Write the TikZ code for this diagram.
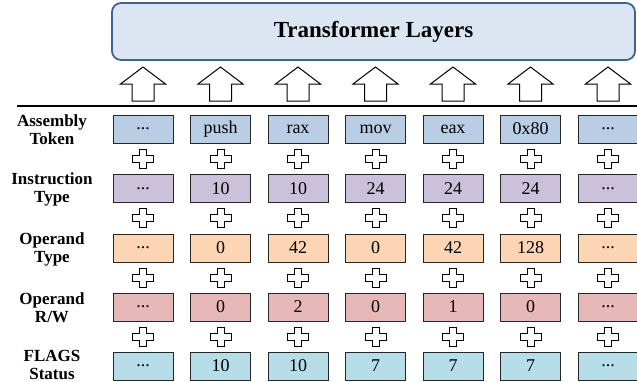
\documentclass[tikz,border=0pt]{standalone}
\usepackage{fontspec}
\setmainfont{Liberation Serif}
\usetikzlibrary{calc}

\definecolor{tokblue}{HTML}{B9CDE5}
\definecolor{insviolet}{HTML}{CCC1DA}
\definecolor{oppeach}{HTML}{FCD5B5}
\definecolor{rwpink}{HTML}{E6B9B8}
\definecolor{flagcyan}{HTML}{B7DDE8}
\definecolor{layerfill}{HTML}{DCE6F2}
\definecolor{layerdraw}{HTML}{41638F}
\newcommand{\etcdots}{...}

\begin{document}
\begin{tikzpicture}[x=0.5pt, y=-0.5pt]
        \tikzstyle{cell} = [draw=black!85, line width=0.5pt, minimum width=30pt, minimum height=14pt, inner sep=0pt, font=\fontsize{9}{10}\selectfont]
        \tikzstyle{rowname} = [align=center, inner sep=0pt, font=\bfseries\fontsize{8.5}{9}\selectfont]
        \tikzset{
          addsign/.pic={\draw[fill=white, line width=0.5pt] (-3.5,-9.5) -- (3.5,-9.5) -- (3.5,-3.5) -- (10.5,-3.5) -- (10.5,3.5) -- (3.5,3.5) -- (3.5,9.5) -- (-3.5,9.5) -- (-3.5,3.5) -- (-10.5,3.5) -- (-10.5,-3.5) -- (-3.5,-3.5) -- cycle;},
          uparr/.pic={\draw[fill=white, line width=0.5pt] (0,-17) -- (22.5,0) -- (11,0) -- (11,17) -- (-11,17) -- (-11,0) -- (-22.5,0) -- cycle;}
        }
        \useasboundingbox (0,0) rectangle (637,381);
        % transformer block
        \node[draw=layerdraw, fill=layerfill, line width=0.9pt, rounded corners=4.5pt, minimum width=261.5pt, minimum height=28.5pt, font=\bfseries\fontsize{11.5}{13}\selectfont] (layers) at (373.5,31.5) {Transformer Layers};
        \coordinate (sepl) at (17,106);
        \coordinate (sepr) at (637,106);
        \draw[line width=1pt] (sepl) -- (sepr);
        % rows
        \foreach \t [count=\i] in {\etcdots, push, rax, mov, eax, 0x80, \etcdots}
          \node[cell, fill=tokblue] (tok\i) at ({65.5+77.5*\i},129) {\t};
        \foreach \t [count=\i] in {\etcdots, 10, 10, 24, 24, 24, \etcdots}
          \node[cell, fill=insviolet] (ins\i) at ({65.5+77.5*\i},188.5) {\t};
        \foreach \t [count=\i] in {\etcdots, 0, 42, 0, 42, 128, \etcdots}
          \node[cell, fill=oppeach] (opt\i) at ({65.5+77.5*\i},248) {\t};
        \foreach \t [count=\i] in {\etcdots, 0, 2, 0, 1, 0, \etcdots}
          \node[cell, fill=rwpink] (orw\i) at ({65.5+77.5*\i},307) {\t};
        \foreach \t [count=\i] in {\etcdots, 10, 10, 7, 7, 7, \etcdots}
          \node[cell, fill=flagcyan] (flg\i) at ({65.5+77.5*\i},366) {\t};
        % arrows and sums
        \foreach \i in {1,...,7} {
          \pic at ($(tok\i.center)+(0,-45)$) {uparr};
          \pic at ($(tok\i)!0.5!(ins\i)$) {addsign};
          \pic at ($(ins\i)!0.5!(opt\i)$) {addsign};
          \pic at ($(opt\i)!0.5!(orw\i)$) {addsign};
          \pic at ($(orw\i)!0.5!(flg\i)$) {addsign};
        }
        % row names
        \node[rowname] (lbtok) at (52,130) {Assembly\\Token};
        \node[rowname] (lbins) at (52,189.5) {Instruction\\Type};
        \node[rowname] (lbopt) at (52,249) {Operand\\Type};
        \node[rowname] (lborw) at (52,308) {Operand\\R/W};
        \node[rowname] (lbflg) at (52,365) {FLAGS\\Status};
\end{tikzpicture}
\end{document}
